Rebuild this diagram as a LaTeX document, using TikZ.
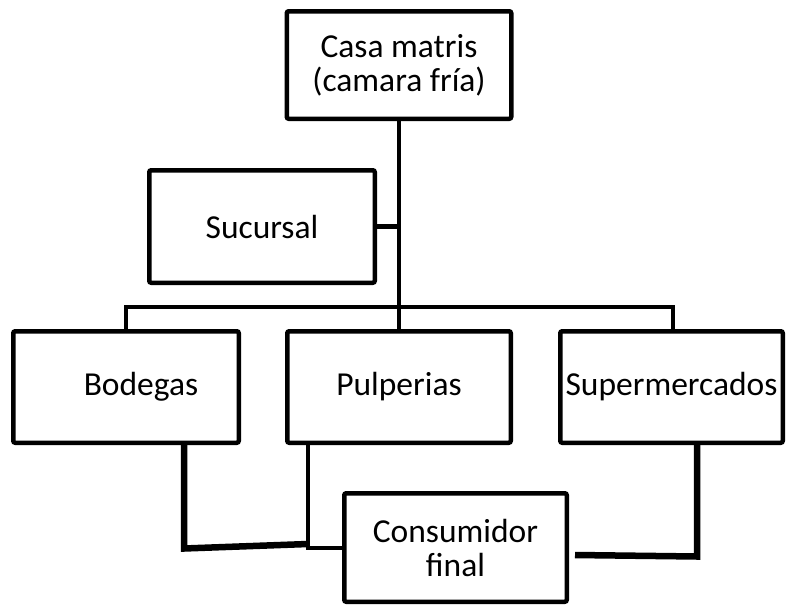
\documentclass[tikz,border=0pt]{standalone}
\usepackage{fontspec}
\setmainfont{Carlito}
\begin{document}
\begin{tikzpicture}[x=1pt,y=-1pt,
  box/.style={draw=black, line width=4.5pt, rounded corners=2pt, fill=white,
    inner sep=0pt, align=center, font=\fontsize{33.5}{34}\selectfont},
  link/.style={draw=black, line width=4.5pt},
  thick link/.style={draw=black, line width=6.5pt, line join=miter},
  thin link/.style={draw=black, line width=4.5pt, line join=miter}]
\useasboundingbox (0,0) rectangle (787,605);
% boxes
\node[box, minimum width=224.5pt, minimum height=107.5pt] (casa) at (399,65) {Casa matris\\(camara fría)};
\node[box, minimum width=225.5pt, minimum height=112.5pt] (suc) at (262,226.5) {Sucursal};
\node[box, minimum width=225.5pt, minimum height=111.5pt] (bod) at (126,387) {};
\node[anchor=center, font=\fontsize{33.5}{34}\selectfont] (bodtxt) at (141,387) {Bodegas};
\node[box, minimum width=223.5pt, minimum height=111.5pt] (pul) at (399,387) {Pulperias};
\node[box, minimum width=222.5pt, minimum height=111.5pt] (sup) at (671.5,387) {Supermercados};
\node[box, minimum width=222.5pt, minimum height=108.5pt] (con) at (455.5,547.5) {Consumidor\\final};
% top connectors
\coordinate (bus) at (399,307);
\draw[link] (casa.south) -- (pul.north);
\draw[link] (suc.east) -- (suc.east -| casa.south);
\draw[link, line join=miter] (bod.north) |- (bus) -| ([xshift=1.5pt]sup.north);
% bottom connectors
\coordinate (bodbend) at (184,548.5);
\coordinate (bodend) at (308,544);
\coordinate (pulbend) at (308,548);
\coordinate (supbend) at (697,556.5);
\coordinate (supend) at (575,555);
\draw[thick link] (bod.south -| bodbend) -- (bodbend) -- (bodend);
\draw[thin link] (pul.south -| pulbend) -- (pulbend) -- (con.west |- pulbend);
\draw[thick link] (sup.south -| supbend) -- (supbend) -- (supend);
\end{tikzpicture}
\end{document}
